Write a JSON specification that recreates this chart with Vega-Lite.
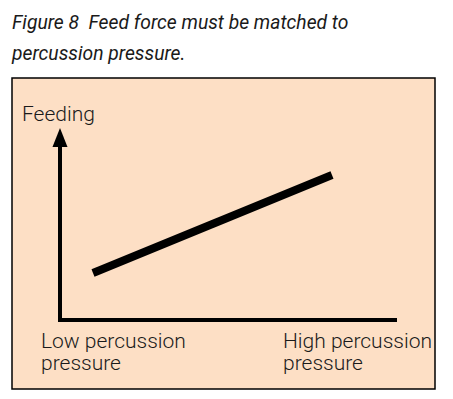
{
  "$schema": "https://vega.github.io/schema/vega-lite/v6.json",
  "width": 453,
  "height": 399,
  "autosize": {"type": "fit", "contains": "padding"},
  "padding": {"left": 12, "top": 13, "right": 18, "bottom": 10},
  "background": "white",
  "view": {"fill": "#FDDFC5", "stroke": "#000000", "strokeWidth": 1.5},
  "title": {
    "text": ["Figure 8\u00a0\u00a0Feed force must be matched to", "percussion pressure."],
    "anchor": "start",
    "font": "Roboto",
    "fontStyle": "italic",
    "fontWeight": "normal",
    "fontSize": 19.3,
    "lineHeight": 31,
    "color": "#1a1a1a",
    "offset": 14
  },
  "datasets": {
    "axes": [
      {"x": 48, "y": 69, "x2": 48, "y2": 244},
      {"x": 48, "y": 69, "x2": 383, "y2": 69}
    ],
    "trend": [
      {"x": 81, "y": 116},
      {"x": 320, "y": 214}
    ],
    "arrow": [{"x": 48, "y": 251.5}],
    "labels": [
      {"x": 10, "y": 268, "label": ["Feeding"]},
      {"x": 29, "y": 41, "label": ["Low percussion", "pressure"]},
      {"x": 271, "y": 41, "label": ["High percussion", "pressure"]}
    ]
  },
  "layer": [
    {
      "data": {"name": "axes"},
      "mark": {"type": "rule", "color": "#000000", "strokeWidth": 4, "strokeCap": "square"},
      "encoding": {
        "x": {"field": "x", "type": "quantitative", "scale": {"domain": [0, 423], "nice": false, "zero": false}, "axis": null},
        "y": {"field": "y", "type": "quantitative", "scale": {"domain": [0, 311], "nice": false, "zero": false}, "axis": null},
        "x2": {"field": "x2"},
        "y2": {"field": "y2"}
      }
    },
    {
      "data": {"name": "arrow"},
      "mark": {"type": "point", "shape": "M-0.79,1L0,-1L0.79,1Z", "filled": true, "color": "#000000", "opacity": 1, "size": 361},
      "encoding": {
        "x": {"field": "x", "type": "quantitative"},
        "y": {"field": "y", "type": "quantitative"}
      }
    },
    {
      "data": {"name": "trend"},
      "mark": {"type": "line", "color": "#000000", "strokeWidth": 8, "strokeCap": "butt"},
      "encoding": {
        "x": {"field": "x", "type": "quantitative"},
        "y": {"field": "y", "type": "quantitative"}
      }
    },
    {
      "data": {"name": "labels"},
      "mark": {"type": "text", "align": "left", "baseline": "alphabetic", "font": "Roboto", "fontWeight": 300, "fontSize": 21, "lineHeight": 22, "color": "#1a1a1a"},
      "encoding": {
        "x": {"field": "x", "type": "quantitative"},
        "y": {"field": "y", "type": "quantitative"},
        "text": {"field": "label"}
      }
    }
  ]
}
